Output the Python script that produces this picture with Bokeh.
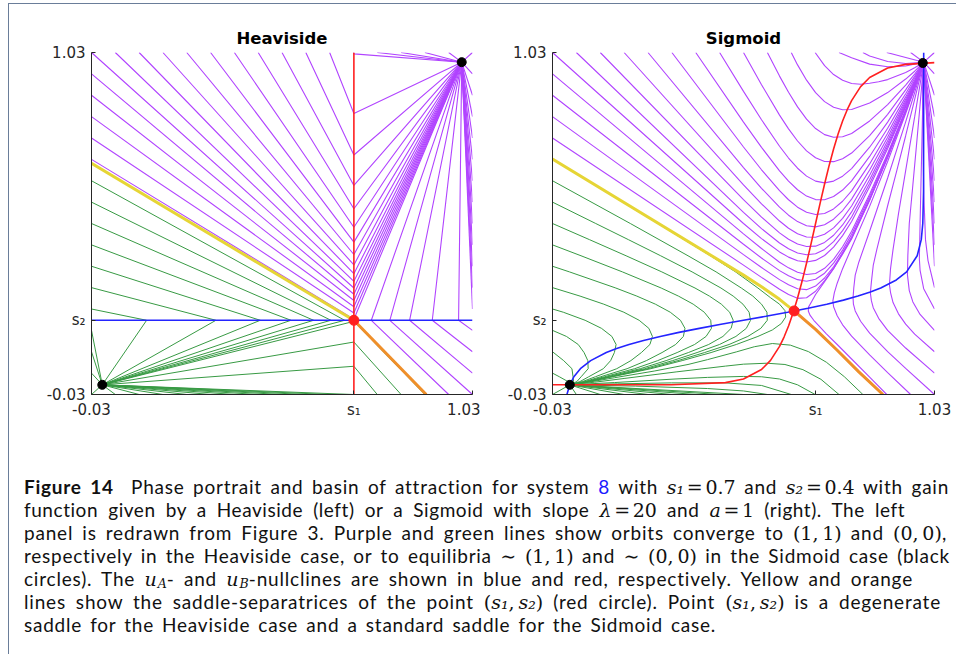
from bokeh.plotting import figure
from bokeh.models import Range1d, FixedTicker, Div
from bokeh.layouts import column, row
from bokeh.embed import file_html
from bokeh.resources import INLINE

# ---------------- axes / labels ----------------
AX_LO, AX_HI = -0.03, 1.03
x_tick_values = [-0.03, 0.7, 1.03]
x_tick_labels = ["-0.03", "s\u2081", "1.03"]
y_tick_values = [-0.03, 0.2, 1.03]
y_tick_labels = ["-0.03", "s\u2082", "1.03"]
panel_titles = ["Heaviside", "Sigmoid"]

# ---------------- Heaviside panel (orbits as polylines: start, kink, end) ----------------
heav_purple = [
    [(-0.03, 1.03), (0.7, 0.300), (1, 1)],
    [(-0.03, 0.96375), (0.7, 0.2807), (1, 1)],
    [(-0.03, 0.8975), (0.7, 0.2614), (1, 1)],
    [(-0.03, 0.83125), (0.7, 0.2421), (1, 1)],
    [(-0.03, 0.765), (0.7, 0.2228), (1, 1)],
    [(-0.03, 0.69875), (0.7, 0.2035), (1, 1)],
    [(0.03625, 1.03), (0.7, 0.3206), (1, 1)],
    [(0.1025, 1.03), (0.7, 0.3443), (1, 1)],
    [(0.16875, 1.03), (0.7, 0.3717), (1, 1)],
    [(0.235, 1.03), (0.7, 0.4039), (1, 1)],
    [(0.30125, 1.03), (0.7, 0.4422), (1, 1)],
    [(0.3675, 1.03), (0.7, 0.4885), (1, 1)],
    [(0.43375, 1.03), (0.7, 0.5457), (1, 1)],
    [(0.5, 1.03), (0.7, 0.618), (1, 1)],
    [(0.56625, 1.03), (0.7, 0.7124), (1, 1)],
    [(0.6325, 1.03), (0.7, 0.8408), (1, 1)],
    [(0.69875, 1.03), (0.7, 1.0257), (1, 1)],
    [(0.765, 1.03), (1, 1)],
    [(0.83125, 1.03), (1, 1)],
    [(0.8975, 1.03), (1, 1)],
    [(0.96375, 1.03), (1, 1)],
    [(1.03, 1.03), (1, 1)],
    [(1.03, 0.96375), (1, 1)],
    [(1.03, 0.8975), (1, 1)],
    [(1.03, 0.83125), (1, 1)],
    [(1.03, 0.765), (1, 1)],
    [(1.03, 0.69875), (1, 1)],
    [(1.03, 0.6325), (1, 1)],
    [(1.03, 0.56625), (1, 1)],
    [(1.03, 0.5), (1, 1)],
    [(1.03, 0.43375), (1, 1)],
    [(1.03, 0.3675), (1, 1)],
    [(1.03, 0.30125), (1, 1)],
    [(1.03, 0.235), (1, 1)],
    [(1.03, 0.16875), (0.9913, 0.2), (1, 1)],
    [(1.03, 0.1025), (0.9181, 0.2), (1, 1)],
    [(1.03, 0.03625), (0.855, 0.2), (1, 1)],
    [(1.03, -0.03), (0.8, 0.2), (1, 1)],
    [(0.96375, -0.03), (0.7485, 0.2), (1, 1)],
]
heav_green = [
    [(-0.03, 0.6325), (0.6743, 0.2), (0, 0)],
    [(-0.03, 0.56625), (0.6362, 0.2), (0, 0)],
    [(-0.03, 0.5), (0.588, 0.2), (0, 0)],
    [(-0.03, 0.43375), (0.5251, 0.2), (0, 0)],
    [(-0.03, 0.3675), (0.4395, 0.2), (0, 0)],
    [(-0.03, 0.30125), (0.3162, 0.2), (0, 0)],
    [(-0.03, 0.235), (0.1234, 0.2), (0, 0)],
    [(-0.03, 0.16875), (0, 0)],
    [(-0.03, 0.1025), (0, 0)],
    [(-0.03, 0.03625), (0, 0)],
    [(-0.03, -0.03), (0, 0)],
    [(0.03625, -0.03), (0, 0)],
    [(0.1025, -0.03), (0, 0)],
    [(0.16875, -0.03), (0, 0)],
    [(0.235, -0.03), (0, 0)],
    [(0.30125, -0.03), (0, 0)],
    [(0.3675, -0.03), (0, 0)],
    [(0.43375, -0.03), (0, 0)],
    [(0.5, -0.03), (0, 0)],
    [(0.56625, -0.03), (0, 0)],
    [(0.6325, -0.03), (0, 0)],
    [(0.69875, -0.03), (0, 0)],
    [(0.765, -0.03), (0.7, 0.0575), (0, 0)],
    [(0.83125, -0.03), (0.7, 0.1326), (0, 0)],
    [(0.8975, -0.03), (0.7, 0.1967), (0, 0)],
]
heav_blue = [(-0.03, 0.2), (1.03, 0.2)]
heav_red = [(0.7, -0.03), (0.7, 1.03)]
heav_yellow = [(-0.03, 0.6867), (0.7, 0.2)]
heav_orange = [(0.7, 0.2), (0.9013, -0.03)]
heav_black = [(0.0, 0.0), (1.0, 1.0)]
heav_saddle = [(0.7, 0.2)]

# ---------------- Sigmoid panel (orbits read as waypoints) ----------------
sig_purple = [
    [(-0.03, 1.03), (0.5, 0.5), (0.55, 0.4532), (0.6, 0.4119), (0.625, 0.3958), (0.65, 0.3847), (0.675, 0.3806), (0.7, 0.3856), (0.725, 0.4008), (0.75, 0.4267), (0.775, 0.4623), (0.8, 0.5064), (0.85, 0.6136), (0.9, 0.7324), (0.95, 0.861), (0.975, 0.929), (1, 1)],
    [(0.03625, 1.03), (0.5, 0.5344), (0.55, 0.4841), (0.6, 0.4394), (0.625, 0.4215), (0.65, 0.4087), (0.675, 0.4029), (0.7, 0.4062), (0.725, 0.4197), (0.75, 0.4438), (0.775, 0.4778), (0.8, 0.5201), (0.85, 0.6239), (0.9, 0.7393), (0.95, 0.8644), (0.975, 0.931), (1, 1)],
    [(0.1025, 1.03), (0.5, 0.5738), (0.55, 0.5196), (0.6, 0.4710), (0.625, 0.4511), (0.65, 0.4363), (0.675, 0.4286), (0.7, 0.4298), (0.725, 0.4414), (0.75, 0.4636), (0.775, 0.4955), (0.8, 0.5359), (0.85, 0.6357), (0.9, 0.7472), (0.95, 0.8684), (0.975, 0.933), (1, 1)],
    [(0.16875, 1.03), (0.5, 0.6196), (0.55, 0.5608), (0.6, 0.5076), (0.625, 0.4854), (0.65, 0.4683), (0.675, 0.4583), (0.7, 0.4573), (0.725, 0.4666), (0.75, 0.4864), (0.775, 0.5161), (0.8, 0.5542), (0.85, 0.6495), (0.9, 0.7563), (0.95, 0.873), (0.975, 0.934), (1, 1)],
    [(0.235, 1.03), (0.5, 0.6732), (0.55, 0.6091), (0.6, 0.5505), (0.625, 0.5257), (0.65, 0.5059), (0.675, 0.4932), (0.7, 0.4895), (0.725, 0.4961), (0.75, 0.5133), (0.775, 0.5402), (0.8, 0.5756), (0.85, 0.6656), (0.9, 0.767), (0.95, 0.8783), (0.975, 0.937), (1, 1)],
    [(0.30125, 1.03), (0.5, 0.7371), (0.55, 0.6665), (0.6, 0.6016), (0.625, 0.5736), (0.65, 0.5506), (0.675, 0.5347), (0.7, 0.5278), (0.725, 0.5312), (0.75, 0.5452), (0.775, 0.569), (0.8, 0.6012), (0.85, 0.6847), (0.9, 0.7798), (0.95, 0.8847), (0.975, 0.940), (1, 1)],
    [(0.3675, 1.03), (0.5, 0.8143), (0.55, 0.736), (0.6, 0.6633), (0.625, 0.6315), (0.65, 0.6046), (0.675, 0.5849), (0.7, 0.5741), (0.725, 0.5737), (0.75, 0.5838), (0.775, 0.6037), (0.8, 0.6321), (0.85, 0.7079), (0.9, 0.7953), (0.95, 0.8924), (0.975, 0.944), (1, 1)],
    [(0.43375, 1.03), (0.5, 0.9095), (0.55, 0.8217), (0.6, 0.7395), (0.625, 0.7029), (0.65, 0.6713), (0.675, 0.6468), (0.7, 0.6313), (0.725, 0.626), (0.75, 0.6314), (0.775, 0.6466), (0.8, 0.6702), (0.85, 0.7364), (0.9, 0.8143), (0.95, 0.902), (0.975, 0.950), (1, 1)],
    [(0.5, 1.03), (0.55, 0.9302), (0.6, 0.8359), (0.625, 0.7933), (0.65, 0.7557), (0.675, 0.7251), (0.7, 0.7036), (0.725, 0.6923), (0.75, 0.6917), (0.775, 0.7008), (0.8, 0.7184), (0.85, 0.7726), (0.9, 0.8384), (0.95, 0.914), (0.975, 0.956), (1, 1)],
    [(0.56625, 1.03), (0.6, 0.9568), (0.625, 0.9066), (0.65, 0.8614), (0.675, 0.8233), (0.7, 0.7942), (0.725, 0.7754), (0.75, 0.7672), (0.775, 0.7688), (0.8, 0.7788), (0.85, 0.8179), (0.9, 0.8686), (0.95, 0.929), (0.975, 0.963), (1, 1)],
    [(0.6325, 1.03), (0.65, 0.9916), (0.675, 0.9442), (0.7, 0.9058), (0.725, 0.8777), (0.75, 0.8602), (0.775, 0.8525), (0.8, 0.8532), (0.85, 0.8737), (0.9, 0.9058), (0.95, 0.9477), (0.975, 0.972), (1, 1)],
    [(0.69875, 1.03), (0.725, 0.9893), (0.75, 0.9617), (0.775, 0.9438), (0.8, 0.934), (0.825, 0.9317), (0.85, 0.9346), (0.875, 0.9393), (0.9, 0.946), (0.95, 0.968), (0.975, 0.983), (1, 1)],
    [(0.765, 1.03), (0.8, 1.014), (0.85, 0.994), (0.9, 0.986), (0.95, 0.988), (1, 1)],
    [(0.83125, 1.03), (0.85, 1.019), (0.9, 1.002), (0.95, 0.996), (1, 1)],
    [(0.8975, 1.03), (1, 1)],
    [(0.96375, 1.03), (1, 1)],
    [(1.03, 1.03), (1, 1)],
    [(1.03, 0.96375), (1, 1)],
    [(1.03, 0.8975), (1, 1)],
    [(1.03, 0.83125), (1, 1)],
    [(1.03, 0.765), (1, 1)],
    [(1.03, 0.69875), (1, 1)],
    [(1.03, 0.6325), (1, 1)],
    [(1.03, 0.56625), (1, 1)],
    [(1.03, 0.5), (1, 1)],
    [(1.03, 0.43375), (1, 1)],
    [(1.03, 0.3675), (1, 1)],
    [(1.03, 0.30125), (1.012, 0.385), (1.005, 0.45), (1.0, 0.6), (0.998, 0.8), (0.9975, 0.9975)],
    [(1.03, 0.235), (1.0, 0.298), (0.99, 0.355), (0.988, 0.39), (0.99, 0.5), (0.994, 0.7), (0.997, 0.85), (0.9975, 0.9975)],
    [(1.03, 0.16875), (0.99, 0.218), (0.97, 0.257), (0.96, 0.292), (0.955, 0.34), (0.956, 0.4), (0.96, 0.5), (0.97, 0.62), (0.98, 0.742), (0.99, 0.868), (1, 1)],
    [(1.03, 0.1025), (0.975, 0.157), (0.95, 0.188), (0.93, 0.22), (0.915, 0.255), (0.908, 0.286), (0.905, 0.31), (0.908, 0.36), (0.915, 0.42), (0.93, 0.53), (0.95, 0.664), (0.975, 0.831), (0.99, 0.932), (1, 1)],
    [(1.03, 0.03625), (0.95, 0.114), (0.9, 0.169), (0.875, 0.206), (0.86, 0.239), (0.855, 0.26), (0.852, 0.285), (0.855, 0.32), (0.86, 0.37), (0.87, 0.42), (0.9, 0.555), (0.925, 0.662), (0.95, 0.772), (0.975, 0.885), (1, 1)],
    [(1.03, -0.03), (0.95, 0.051), (0.9, 0.103), (0.85, 0.16), (0.825, 0.197), (0.81, 0.229), (0.805, 0.25), (0.804, 0.27), (0.806, 0.3), (0.81, 0.34), (0.82, 0.38), (0.85, 0.476), (0.9, 0.641), (0.95, 0.815), (0.975, 0.906), (1, 1)],
    [(0.96375, -0.03), (0.9, 0.038), (0.85, 0.093), (0.8, 0.151), (0.775, 0.186), (0.76, 0.214), (0.75, 0.242), (0.748, 0.26), (0.752, 0.285), (0.76, 0.315), (0.775, 0.36), (0.8, 0.425), (0.85, 0.553), (0.9, 0.692), (0.95, 0.841), (0.975, 0.919), (1, 1)],
    [(0.8975, -0.03), (0.85, 0.024), (0.8, 0.08), (0.76, 0.125), (0.73, 0.158), (0.71, 0.182), (0.695, 0.2), (0.685, 0.215), (0.68, 0.228), (0.68, 0.24), (0.69, 0.26), (0.7, 0.28), (0.725, 0.32), (0.75, 0.36), (0.8, 0.455), (0.85, 0.573), (0.9, 0.705), (0.95, 0.847), (0.975, 0.922), (1, 1)],
    [(-0.03, 0.96375), (0.5, 0.468), (0.55, 0.4225), (0.6, 0.380), (0.625, 0.3625), (0.65, 0.349), (0.675, 0.342), (0.7, 0.345), (0.725, 0.361), (0.75, 0.389), (0.775, 0.428), (0.8, 0.476), (0.85, 0.591), (0.9, 0.717), (0.95, 0.853), (0.975, 0.925), (1, 1)],
    [(-0.03, 0.8975), (0.5, 0.4357), (0.55, 0.393), (0.6, 0.354), (0.625, 0.338), (0.65, 0.326), (0.675, 0.321), (0.7, 0.327), (0.725, 0.346), (0.75, 0.377), (0.775, 0.4175), (0.8, 0.467), (0.85, 0.584), (0.9, 0.7125), (0.95, 0.851), (0.975, 0.924), (1, 1)],
    [(-0.03, 0.83125), (0.5, 0.4035), (0.55, 0.3636), (0.6, 0.326), (0.625, 0.31), (0.65, 0.298), (0.675, 0.295), (0.7, 0.306), (0.725, 0.331), (0.75, 0.366), (0.775, 0.41), (0.8, 0.458), (0.85, 0.577), (0.9, 0.708), (0.95, 0.849), (0.975, 0.923), (1, 1)],
    [(-0.03, 0.765), (0.5, 0.371), (0.55, 0.333), (0.6, 0.296), (0.625, 0.28), (0.65, 0.268), (0.675, 0.27), (0.7, 0.29), (0.725, 0.323), (0.75, 0.361), (0.775, 0.405), (0.8, 0.452), (0.85, 0.572), (0.9, 0.705), (0.95, 0.847), (0.975, 0.922), (1, 1)],
]
sig_green = [
    [(-0.03, 0.69875), (0.262, 0.5), (0.408, 0.4), (0.478, 0.35), (0.54, 0.3), (0.575, 0.27), (0.6, 0.25), (0.615, 0.23), (0.617, 0.21), (0.605, 0.19), (0.58, 0.17), (0.54, 0.15), (0.48, 0.125), (0.41, 0.1), (0.33, 0.075), (0.243, 0.05), (0.1365, 0.025), (0.072, 0.01), (0.018, 0)],
    [(-0.03, 0.6325), (0.186, 0.5), (0.346, 0.4), (0.424, 0.35), (0.494, 0.3), (0.526, 0.275), (0.55, 0.25), (0.565, 0.225), (0.566, 0.2), (0.548, 0.175), (0.512, 0.15), (0.46, 0.125), (0.392, 0.1), (0.318, 0.075), (0.235, 0.05), (0.1325, 0.025), (0.071, 0.01), (0.018, 0)],
    [(-0.03, 0.56625), (0.09, 0.5), (0.1805, 0.45), (0.2701, 0.4), (0.3574, 0.35), (0.4374, 0.3), (0.4714, 0.275), (0.4985, 0.25), (0.5156, 0.225), (0.5195, 0.2), (0.5078, 0.175), (0.479, 0.15), (0.4334, 0.125), (0.3712, 0.1), (0.3034, 0.075), (0.2255, 0.05), (0.128, 0.025), (0.069, 0.01), (0.018, 0)],
    [(-0.03, 0.5), (0.0725, 0.45), (0.1741, 0.4), (0.2734, 0.35), (0.3654, 0.3), (0.4054, 0.275), (0.4385, 0.25), (0.4616, 0.225), (0.4715, 0.2), (0.4657, 0.175), (0.443, 0.15), (0.4034, 0.125), (0.347, 0.1), (0.2854, 0.075), (0.2135, 0.05), (0.1218, 0.025), (0.067, 0.01), (0.018, 0)],
    [(-0.03, 0.43375), (0.0491, 0.4), (0.164, 0.35), (0.2716, 0.3), (0.3195, 0.275), (0.3604, 0.25), (0.3912, 0.225), (0.409, 0.2), (0.411, 0.175), (0.3962, 0.15), (0.3643, 0.125), (0.3159, 0.1), (0.262, 0.075), (0.198, 0.05), (0.114, 0.025), (0.063, 0.01), (0.018, 0)],
    [(-0.03, 0.3675), (0.0171, 0.35), (0.1457, 0.3), (0.204, 0.275), (0.2555, 0.25), (0.2968, 0.225), (0.3251, 0.2), (0.3376, 0.175), (0.3332, 0.15), (0.3118, 0.125), (0.274, 0.1), (0.2305, 0.075), (0.177, 0.05), (0.1035, 0.025), (0.059, 0.01), (0.018, 0)],
    [(-0.03, 0.30125), (0.0465, 0.275), (0.1122, 0.25), (0.168, 0.225), (0.2105, 0.2), (0.2374, 0.175), (0.2473, 0.15), (0.2403, 0.125), (0.2167, 0.1), (0.1875, 0.075), (0.1483, 0.05), (0.089, 0.025), (0.053, 0.01), (0.018, 0)],
    [(-0.03, 0.235), (0.0, 0.225), (0.0605, 0.2), (0.106, 0.175), (0.1348, 0.15), (0.1465, 0.125), (0.1417, 0.1), (0.1313, 0.075), (0.111, 0.05), (0.0705, 0.025), (0.046, 0.01), (0.018, 0)],
    [(-0.03, 0.16875), (0.0087, 0.15), (0.0414, 0.125), (0.0576, 0.1), (0.068, 0.075), (0.069, 0.05), (0.0495, 0.025), (0.0375, 0.01), (0.018, 0)],
    [(-0.03, 0.1025), (0.001, 0.075), (0.024, 0.05), (0.027, 0.025), (0.0285, 0.01), (0.018, 0)],
    [(-0.03, 0.03625), (-0.011, 0.025), (0.013, 0.01), (0.018, 0)],
    [(-0.03, -0.03), (0.018, 0)],
    [(0.03625, -0.03), (0.018, 0)],
    [(0.1025, -0.03), (0.018, 0)],
    [(0.16875, -0.03), (0.018, 0)],
    [(0.235, -0.03), (0.018, 0)],
    [(0.30125, -0.03), (0.018, 0)],
    [(0.3675, -0.03), (0.018, 0)],
    [(0.43375, -0.03), (0.018, 0)],
    [(0.5, -0.03), (0.018, 0)],
    [(0.56625, -0.03), (0.5, -0.019), (0.4, -0.0115), (0.2, -0.004), (0.018, 0)],
    [(0.6325, -0.03), (0.55, -0.002), (0.45, 0.006), (0.3, 0.006), (0.15, 0.003), (0.018, 0)],
    [(0.69875, -0.03), (0.65, 0.0), (0.6, 0.018), (0.55, 0.025), (0.5, 0.026), (0.4, 0.023), (0.31, 0.018), (0.142, 0.007), (0.018, 0)],
    [(0.765, -0.03), (0.715, 0.017), (0.665, 0.047), (0.615, 0.063), (0.565, 0.067), (0.5, 0.064), (0.45, 0.058), (0.313, 0.04), (0.171, 0.02), (0.086, 0.008), (0.018, 0)],
    [(0.83125, -0.03), (0.78, 0.025), (0.73, 0.07), (0.68, 0.103), (0.63, 0.123), (0.58, 0.128), (0.53, 0.118), (0.48, 0.102), (0.4, 0.078), (0.346, 0.063), (0.254, 0.043), (0.142, 0.022), (0.0745, 0.009), (0.018, 0)],
]
sig_blue = [(0.0100, -0.03), (0.018, 0.0), (0.0293, 0.025), (0.0474, 0.05), (0.0759, 0.075), (0.1192, 0.1), (0.148, 0.1125),
            (0.1824, 0.125), (0.2227, 0.1375), (0.2689, 0.15), (0.3208, 0.1625), (0.3775, 0.175), (0.4378, 0.1875),
            (0.5, 0.2), (0.5622, 0.2125), (0.6225, 0.225), (0.6792, 0.2375), (0.7311, 0.25), (0.7773, 0.2625),
            (0.8176, 0.275), (0.852, 0.2875), (0.8808, 0.3), (0.9241, 0.325), (0.9526, 0.35), (0.982, 0.4),
            (0.9933, 0.45), (0.9975, 0.5), (0.99966, 0.6), (1.0, 1.03)]
sig_red = [(-0.03, 0.0), (0.3, 0.0003), (0.45, 0.0067), (0.5, 0.018), (0.55, 0.0474), (0.575, 0.0759), (0.6, 0.1192),
           (0.6125, 0.148), (0.625, 0.1824), (0.6375, 0.2227), (0.65, 0.2689), (0.6625, 0.3208), (0.675, 0.3775),
           (0.6875, 0.4378), (0.7, 0.5), (0.7125, 0.5622), (0.725, 0.6225), (0.7375, 0.6792), (0.75, 0.7311),
           (0.7625, 0.7773), (0.775, 0.8176), (0.7875, 0.852), (0.8, 0.8808), (0.825, 0.9241), (0.85, 0.9526),
           (0.9, 0.982), (0.95, 0.9933), (1.03, 0.9986)]
sig_yellow = [(-0.03, 0.70), (0.5, 0.34), (0.55, 0.304), (0.6, 0.265), (0.62, 0.247), (0.6405, 0.229)]
sig_orange = [(0.6405, 0.229), (0.7, 0.172), (0.76, 0.107), (0.82, 0.04), (0.887, -0.03)]
sig_black = [(0.018, 0.0), (0.9975, 0.9975)]
sig_saddle = [(0.6405, 0.229)]

PURPLE = "#b144ff"
GREEN = "#389a44"
BLUE = "#2424ff"
RED = "#ff2020"
YELLOW = "#e6d535"
ORANGE = "#ef8f2a"
AXIS = "#262626"
TICK_FONT = "DejaVu Sans"


def xs_ys(lines):
    return [[pt[0] for pt in ln] for ln in lines], [[pt[1] for pt in ln] for ln in lines]


def xy(pts):
    return [pt[0] for pt in pts], [pt[1] for pt in pts]


def panel(title, width, left, right, purple, green, blue, red, yellow, orange, black, saddle):
    p = figure(width=width, height=420, x_range=Range1d(AX_LO, AX_HI), y_range=Range1d(AX_LO, AX_HI),
               output_backend="svg", toolbar_location=None, title=title,
               min_border_left=left, min_border_right=right, min_border_top=48, min_border_bottom=30)
    p.title.align = "center"
    p.title.text_font = "DejaVu Sans"
    p.title.text_font_size = "16.5px"
    p.title.text_font_style = "bold"
    p.title.text_color = "#000000"
    p.title.standoff = 10
    p.grid.visible = False
    p.outline_line_color = None
    for ax, vals, labs in ((p.xaxis[0], x_tick_values, x_tick_labels), (p.yaxis[0], y_tick_values, y_tick_labels)):
        ax.ticker = FixedTicker(ticks=vals)
        ax.major_label_overrides = dict(zip(vals, labs))
        ax.axis_line_color = AXIS
        ax.major_tick_line_color = AXIS
        ax.major_tick_in = 4
        ax.major_tick_out = 0
        ax.minor_tick_line_color = None
        ax.major_label_text_font = TICK_FONT
        ax.major_label_text_font_size = "15px"
        ax.major_label_text_color = AXIS
        ax.major_label_standoff = 6
    px, py = xs_ys(purple)
    gx, gy = xs_ys(green)
    p.multi_line(px, py, line_color=PURPLE, line_width=1.1)
    p.multi_line(gx, gy, line_color=GREEN, line_width=1.0)
    bx, by = xy(blue)
    rx, ry = xy(red)
    p.line(bx, by, line_color=BLUE, line_width=1.6)
    p.line(rx, ry, line_color=RED, line_width=1.6)
    yx, yy = xy(yellow)
    ox, oy = xy(orange)
    p.line(yx, yy, line_color=YELLOW, line_width=3)
    p.line(ox, oy, line_color=ORANGE, line_width=3)
    kx, ky = xy(black)
    p.scatter(kx, ky, size=9, color="black")
    sx, sy = xy(saddle)
    p.scatter(sx, sy, size=10, color=RED)
    return p


p1 = panel(panel_titles[0], 471, 82, 8, heav_purple, heav_green, heav_blue, heav_red,
           heav_yellow, heav_orange, heav_black, heav_saddle)
p2 = panel(panel_titles[1], 476, 72, 22, sig_purple, sig_green, sig_blue, sig_red,
           sig_yellow, sig_orange, sig_black, sig_saddle)

# ---------------- caption ----------------
SERIF = "font-family:'DejaVu Serif';font-size:1em;letter-spacing:0;"


def sub(t):
    return ('<sub style="font-size:66%;line-height:0;vertical-align:-0.15em;letter-spacing:0;'
            'padding-left:1px">' + t + '</sub>')


def mi(t):
    return '<span style="' + SERIF + 'font-style:italic">' + t + '</span>'


def mr(t):
    return '<span style="' + SERIF + '">' + t + '</span>'


EQ = '<span style="' + SERIF + 'padding:0 0.14em">=</span>'
S1 = mi('s\u2081')
S2 = mi('s\u2082')
pair = mr('(') + S1 + mr(',&thinsp;') + S2 + mr(')')
caption_lines = [
    '<b>Figure 14</b>&nbsp; Phase portrait and basin of attraction for system <span style="color:#1a1aff">8</span> with '
    + S1 + EQ + mr('0.7') + ' and ' + S2 + EQ + mr('0.4') + ' with gain',
    'function given by a Heaviside (left) or a Sigmoid with slope ' + mi('&lambda;') + EQ + mr('20')
    + ' and ' + mi('a') + EQ + mr('1') + ' (right). The left',
    'panel is redrawn from Figure 3. Purple and green lines show orbits converge to ' + mr('(1,&thinsp;1)')
    + ' and ' + mr('(0,&thinsp;0)') + ',',
    'respectively in the Heaviside case, or to equilibria ' + mr('&sim; (1,&thinsp;1)') + ' and '
    + mr('&sim; (0,&thinsp;0)') + ' in the Sidmoid case (black',
    'circles). The ' + mi('u') + sub(mi('A')) + '- and ' + mi('u') + sub(mi('B'))
    + '-nullclines are shown in blue and red, respectively. Yellow and orange',
    'lines show the saddle-separatrices of the point ' + pair + ' (red circle). Point ' + pair + ' is a degenerate',
    'saddle for the Heaviside case and a standard saddle for the Sidmoid case.',
]
caption_line_ends = [949, 905, 947, 950, 913, 941, 716]   # right end (px) of each caption line
caption_letter_spacing = [0.75, 0.55, 0.8, 0.75, 0.8, 0.8, 0.75]
CAPTION_LEFT = 24

caption_html = ('<div style="font-family:Lato;font-size:19px;color:#111;word-spacing:2.4px;'
                'padding:51px 0 0 15px">'
                + ''.join('<div style="white-space:nowrap;height:23px;line-height:23px;width:%dpx;'
                          'letter-spacing:%.2fpx;text-align:justify;text-align-last:justify">%s</div>'
                          % (end - CAPTION_LEFT, ls, ln)
                          for ln, end, ls in zip(caption_lines, caption_line_ends, caption_letter_spacing))
                + '</div>')
cap = Div(text=caption_html, width=947, height=230, margin=0)

layout = column(row(p1, p2), cap, margin=(3, 0, 0, 8),
                styles={"border-left": "1px solid #6a7d99", "border-top": "1px solid #6a7d99"})

open("out.html", "w").write(file_html(layout, INLINE))
